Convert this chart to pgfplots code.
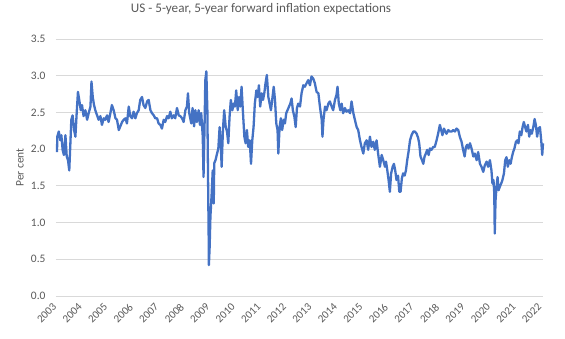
\documentclass[border=0pt]{standalone}
\usepackage{fontspec}
\setmainfont{Carlito}
\usepackage{pgfplots}
\pgfplotsset{compat=1.18}
\definecolor{exblue}{HTML}{4472C4}
\definecolor{txtgrey}{HTML}{595959}
\definecolor{gridgrey}{HTML}{D9D9D9}
\begin{document}
\begin{tikzpicture}
\begin{axis}[
  scale only axis,
  width=487bp, height=257bp,
  xmin=2002.96, xmax=2022.04,
  ymin=0, ymax=3.5,
  ytick={0,0.5,...,3.5},
  xtick={2003,2004,...,2022},
  xticklabels={2003,2004,2005,2006,2007,2008,2009,2010,2011,2012,2013,2014,2015,2016,2017,2018,2019,2020,2021,2022},
  axis line style={draw=none},
  major tick length=0pt,
  ymajorgrids, grid style={gridgrey, line width=0.8bp},
  /pgf/number format/assume math mode=true,
  yticklabel shift=7bp,
  xticklabel shift=7bp,
  yticklabel style={/pgf/number format/fixed, /pgf/number format/fixed zerofill, /pgf/number format/precision=1, font=\fontsize{11.5}{13}\selectfont, text=txtgrey},
  xticklabel style={rotate=45, anchor=east, font=\fontsize{11}{13}\selectfont, text=txtgrey},
  ylabel={Per cent},
  ylabel style={at={(axis description cs:-0.074,0.5)}, anchor=center, font=\fontsize{11.5}{13}\selectfont, text=txtgrey},
  title={US - 5-year, 5-year forward inflation expectations},
  title style={at={(axis description cs:0.421,1)}, anchor=center, yshift=24bp, font=\fontsize{13.2}{15}\selectfont, text=txtgrey},
  clip=false,
]
\addplot[exblue, line width=2.3bp, line join=round] table {
x y
2003.00 1.96
2003.01 2.17
2003.07 2.24
2003.13 2.12
2003.17 2.19
2003.22 1.99
2003.27 1.92
2003.33 2.19
2003.38 1.90
2003.43 1.85
2003.48 1.71
2003.52 2.05
2003.56 2.40
2003.61 2.46
2003.67 2.26
2003.72 2.17
2003.77 2.49
2003.82 2.78
2003.88 2.65
2003.93 2.53
2003.98 2.60
2004.04 2.45
2004.11 2.53
2004.18 2.40
2004.24 2.49
2004.31 2.58
2004.35 2.92
2004.40 2.71
2004.45 2.60
2004.50 2.53
2004.57 2.46
2004.63 2.40
2004.70 2.45
2004.76 2.33
2004.83 2.42
2004.89 2.40
2004.96 2.46
2005.02 2.37
2005.09 2.49
2005.15 2.60
2005.22 2.53
2005.29 2.42
2005.35 2.40
2005.42 2.26
2005.48 2.31
2005.55 2.37
2005.61 2.40
2005.68 2.42
2005.74 2.35
2005.81 2.58
2005.87 2.45
2005.94 2.42
2006.00 2.51
2006.07 2.42
2006.13 2.49
2006.20 2.53
2006.26 2.67
2006.33 2.71
2006.39 2.60
2006.46 2.56
2006.53 2.65
2006.59 2.67
2006.66 2.53
2006.72 2.49
2006.79 2.46
2006.85 2.42
2006.92 2.42
2006.98 2.35
2007.05 2.33
2007.11 2.28
2007.18 2.40
2007.24 2.37
2007.31 2.45
2007.37 2.42
2007.44 2.51
2007.50 2.42
2007.57 2.46
2007.63 2.42
2007.70 2.56
2007.77 2.46
2007.83 2.45
2007.90 2.42
2007.96 2.37
2008.03 2.53
2008.09 2.58
2008.13 2.76
2008.18 2.49
2008.26 2.35
2008.31 2.56
2008.37 2.31
2008.42 2.53
2008.48 2.37
2008.55 2.53
2008.60 2.33
2008.65 2.49
2008.71 2.17
2008.74 1.62
2008.78 2.31
2008.81 2.94
2008.85 3.06
2008.89 2.53
2008.91 1.85
2008.94 0.85
2008.95 0.42
2008.98 0.67
2009.01 1.08
2009.06 1.40
2009.10 1.71
2009.14 1.26
2009.16 1.81
2009.21 1.85
2009.27 1.94
2009.32 2.01
2009.37 2.30
2009.42 2.03
2009.45 1.76
2009.50 2.26
2009.55 2.53
2009.61 2.30
2009.66 2.24
2009.71 2.08
2009.76 2.44
2009.81 2.67
2009.87 2.53
2009.92 2.62
2009.97 2.58
2010.02 2.80
2010.08 2.53
2010.13 2.71
2010.18 2.58
2010.23 2.85
2010.28 2.53
2010.34 2.17
2010.39 2.08
2010.44 2.26
2010.49 2.03
2010.55 2.12
2010.60 1.80
2010.65 2.12
2010.70 2.30
2010.75 2.62
2010.81 2.80
2010.86 2.71
2010.91 2.87
2010.96 2.58
2011.02 2.76
2011.07 2.67
2011.12 2.76
2011.17 2.90
2011.22 3.01
2011.28 2.71
2011.33 2.62
2011.38 2.53
2011.43 2.67
2011.49 2.85
2011.54 2.67
2011.59 2.35
2011.64 2.26
2011.67 1.94
2011.72 2.30
2011.77 2.42
2011.82 2.26
2011.88 2.40
2011.93 2.35
2011.98 2.49
2012.03 2.53
2012.09 2.58
2012.14 2.62
2012.19 2.69
2012.24 2.53
2012.30 2.44
2012.35 2.30
2012.40 2.56
2012.45 2.62
2012.52 2.58
2012.58 2.76
2012.65 2.87
2012.71 2.85
2012.78 2.90
2012.84 2.94
2012.91 2.87
2012.97 2.99
2013.04 2.96
2013.10 2.90
2013.17 2.78
2013.24 2.76
2013.30 2.58
2013.37 2.40
2013.40 2.17
2013.44 2.40
2013.50 2.58
2013.56 2.53
2013.63 2.62
2013.69 2.65
2013.76 2.58
2013.82 2.53
2013.89 2.67
2013.95 2.74
2013.99 2.85
2014.04 2.62
2014.10 2.53
2014.15 2.62
2014.21 2.49
2014.28 2.56
2014.34 2.51
2014.41 2.53
2014.48 2.49
2014.54 2.65
2014.61 2.49
2014.67 2.40
2014.74 2.30
2014.80 2.26
2014.87 2.12
2014.93 2.03
2015.00 1.94
2015.06 2.08
2015.13 2.12
2015.19 1.99
2015.26 2.17
2015.32 2.03
2015.39 2.10
2015.45 1.99
2015.52 2.12
2015.58 1.94
2015.65 1.76
2015.72 1.92
2015.78 1.85
2015.85 1.76
2015.89 1.83
2015.94 1.71
2015.99 1.58
2016.04 1.42
2016.09 1.67
2016.15 1.76
2016.20 1.80
2016.25 1.71
2016.30 1.58
2016.36 1.64
2016.41 1.42
2016.46 1.42
2016.51 1.60
2016.56 1.67
2016.62 1.64
2016.67 1.71
2016.72 1.85
2016.77 1.96
2016.83 2.12
2016.89 2.19
2016.96 2.24
2017.02 2.24
2017.09 2.21
2017.15 2.15
2017.19 2.08
2017.24 1.90
2017.30 1.85
2017.35 1.80
2017.40 1.90
2017.45 1.94
2017.50 1.99
2017.56 1.92
2017.61 2.01
2017.67 1.99
2017.74 2.03
2017.80 2.03
2017.87 2.12
2017.93 2.21
2018.00 2.33
2018.05 2.26
2018.10 2.19
2018.16 2.28
2018.21 2.24
2018.26 2.21
2018.33 2.26
2018.39 2.24
2018.46 2.24
2018.52 2.26
2018.59 2.24
2018.65 2.28
2018.72 2.26
2018.78 2.17
2018.85 2.10
2018.91 1.99
2018.97 1.90
2019.02 2.03
2019.07 2.06
2019.12 2.01
2019.18 2.08
2019.24 2.01
2019.31 1.90
2019.37 1.94
2019.44 1.85
2019.50 1.96
2019.57 1.80
2019.63 1.76
2019.70 1.69
2019.76 1.78
2019.83 1.83
2019.89 1.76
2019.96 1.85
2020.02 1.71
2020.06 1.53
2020.10 1.58
2020.13 1.40
2020.15 0.85
2020.18 1.30
2020.22 1.49
2020.26 1.62
2020.30 1.44
2020.35 1.49
2020.40 1.53
2020.45 1.58
2020.51 1.67
2020.56 1.85
2020.61 1.89
2020.66 1.76
2020.72 1.85
2020.77 1.80
2020.82 1.89
2020.87 1.96
2020.92 2.01
2020.98 2.10
2021.03 2.12
2021.08 2.08
2021.13 2.24
2021.19 2.19
2021.24 2.30
2021.29 2.37
2021.34 2.30
2021.39 2.24
2021.45 2.33
2021.50 2.17
2021.55 2.26
2021.60 2.21
2021.66 2.30
2021.71 2.41
2021.76 2.33
2021.81 2.17
2021.86 2.28
2021.92 2.30
2021.97 2.12
2022.01 1.92
2022.04 2.08
};
\end{axis}
\pgfresetboundingbox
\path[use as bounding box] ([xshift=-56bp,yshift=-43bp]current axis.south west) rectangle ([xshift=22bp,yshift=39bp]current axis.north east);
\end{tikzpicture}
\end{document}
